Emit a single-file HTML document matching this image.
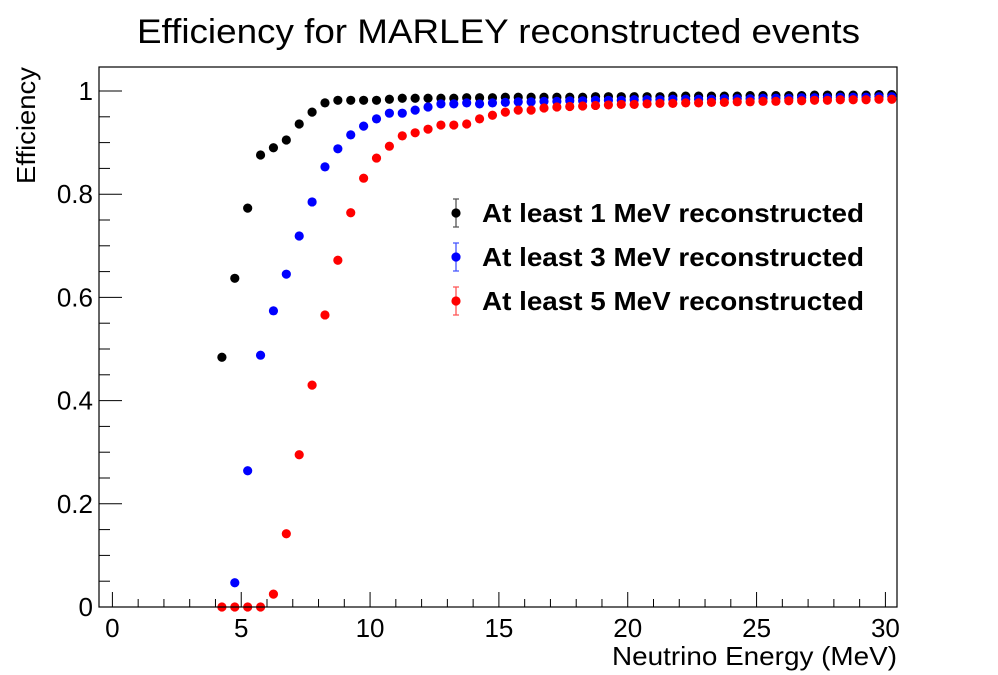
<!DOCTYPE html>
<html><head><meta charset="utf-8"><style>
html,body{margin:0;padding:0;background:#fff;}
svg{display:block;font-family:"Liberation Sans",Arial,sans-serif;}
</style></head><body>
<svg id="chart" width="998" height="675" viewBox="0 0 998 675" xmlns="http://www.w3.org/2000/svg">
<rect x="0" y="0" width="998" height="675" fill="#fff"/>
<text x="137" y="43" font-size="34" textLength="723" lengthAdjust="spacingAndGlyphs">Efficiency for MARLEY reconstructed events</text>
<g id="axes"></g>
<g id="marks"></g>
<rect x="99" y="67" width="798" height="540" fill="none" stroke="#000" stroke-width="1.2"/>
<text x="612" y="665" font-size="26" textLength="285" lengthAdjust="spacingAndGlyphs">Neutrino Energy (MeV)</text>
<text transform="translate(35,184) rotate(-90)" font-size="26" textLength="117" lengthAdjust="spacingAndGlyphs">Efficiency</text>
<g id="legend"></g>
</svg>
<script>
const energies = [];
for (let i = 0; i < 53; i++) energies.push(4.25 + 0.5 * i);
const eff1MeV = [0.484,0.637,0.773,0.876,0.890,0.905,0.936,0.959,0.977,0.982,0.982,0.982,0.982,0.984,0.986,0.986,0.986,0.986,0.986,0.987,0.987,0.987,0.988,0.988,0.988,0.988,0.988,0.988,0.988,0.989,0.989,0.989,0.989,0.989,0.989,0.990,0.990,0.990,0.990,0.990,0.990,0.991,0.991,0.991,0.991,0.991,0.992,0.992,0.992,0.992,0.992,0.993,0.993];
const eff3MeV = [null,0.047,0.264,0.488,0.574,0.645,0.719,0.785,0.853,0.888,0.915,0.932,0.946,0.957,0.957,0.963,0.969,0.975,0.975,0.977,0.975,0.977,0.978,0.979,0.979,0.980,0.980,0.981,0.981,0.982,0.982,0.982,0.983,0.983,0.983,0.984,0.984,0.984,0.984,0.985,0.985,0.985,0.986,0.986,0.986,0.987,0.987,0.987,0.988,0.988,0.988,0.989,0.989];
const eff5MeV = [0,0,0,0,0.025,0.142,0.295,0.430,0.566,0.672,0.764,0.831,0.870,0.893,0.913,0.919,0.926,0.934,0.934,0.936,0.946,0.953,0.959,0.963,0.963,0.967,0.969,0.970,0.971,0.972,0.973,0.974,0.974,0.975,0.976,0.976,0.977,0.977,0.978,0.978,0.979,0.979,0.980,0.980,0.981,0.981,0.982,0.982,0.983,0.983,0.983,0.984,0.984];
const xTickLabels = ["0","5","10","15","20","25","30"];
const yTickLabels = ["0","0.2","0.4","0.6","0.8","1"];
const seriesNames = ["At least 1 MeV reconstructed","At least 3 MeV reconstructed","At least 5 MeV reconstructed"];

const NS = "http://www.w3.org/2000/svg";
const X0 = 99, X1 = 897, Y0 = 607, Y1 = 67;
const xMin = -0.52, xMax = 30.45;
const xs = v => X0 + (v - xMin) / (xMax - xMin) * (X1 - X0);
const ys = v => 607 - v * 516;
function mk(tag, attrs, parent) { const e = document.createElementNS(NS, tag); for (const k in attrs) e.setAttribute(k, attrs[k]); parent.appendChild(e); return e; }

const axes = document.getElementById('axes');
for (let v = 0; v <= 30; v++) {
  const major = v % 5 === 0;
  const t = mk('line', {x1: xs(v), x2: xs(v), y1: Y0, y2: Y0 - (major ? 15 : 8), stroke: '#000', 'stroke-width': 1}, axes);
  
  
}
xTickLabels.forEach(l => {
  const t = mk('text', {x: xs(+l), y: 637, 'font-size': 26, 'text-anchor': 'middle'}, axes);
  t.textContent = l;
  
  
});
for (let i = 0; i <= 20; i++) {
  const v = i * 0.05, major = i % 4 === 0;
  const t = mk('line', {x1: X0, x2: X0 + (major ? 23 : 11), y1: ys(v), y2: ys(v), stroke: '#000', 'stroke-width': 1}, axes);
  
  
}
yTickLabels.forEach(l => {
  const t = mk('text', {x: 93, y: ys(+l) + 9, 'font-size': 26, 'text-anchor': 'end'}, axes);
  t.textContent = l;
  
  
});

const marks = document.getElementById('marks');
const clip = mk('clipPath', {id: 'pc'}, mk('defs', {}, marks));
mk('rect', {x: X0, y: Y1 - 10, width: X1 - X0, height: Y0 - Y1 + 20}, clip);
const g = mk('g', {'clip-path': 'url(#pc)'}, marks);
const series = [[eff1MeV, '#000'], [eff3MeV, '#0000ff'], [eff5MeV, '#ff0000']];
const names = ['point-1mev', 'point-3mev', 'point-5mev'];
series.forEach((s, si) => {
  s[0].forEach((v, i) => {
    if (v === null) return;
    const c = mk('circle', {cx: xs(energies[i]), cy: ys(v), r: 4.6, fill: s[1]}, g);
    
    
  });
});

const legend = document.getElementById('legend');
const errCols = ['#555', '#4455ff', '#ff5555'];
seriesNames.forEach((n, i) => {
  const y = 213 + i * 44;
  const eb = mk('path', {d: `M456 ${y-14}V${y+14}M453 ${y-14}H459M453 ${y+14}H459`, stroke: errCols[i], 'stroke-width': 1.3, fill: 'none'}, legend);
  
  
  const c = mk('circle', {cx: 456, cy: y, r: 4.6, fill: series[i][1]}, legend);
  
  
  const t = mk('text', {x: 482, y: y + 9, 'font-size': 26, 'font-weight': 'bold', textLength: 382, lengthAdjust: 'spacingAndGlyphs'}, legend);
  t.textContent = n;
  
  
});
</script>
</body></html>
